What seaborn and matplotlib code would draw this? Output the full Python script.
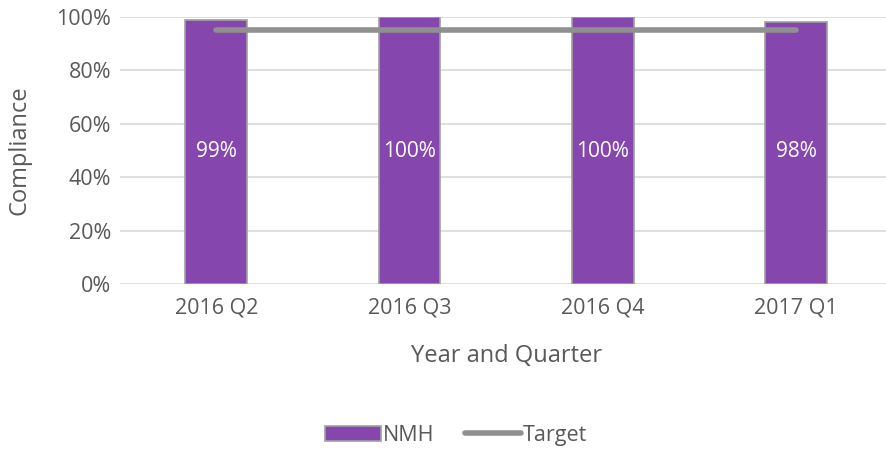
import pandas as pd
import matplotlib.pyplot as plt
import seaborn as sns
from matplotlib.ticker import PercentFormatter

quarters = ["2016 Q2", "2016 Q3", "2016 Q4", "2017 Q1"]
nmh = [0.99, 1.00, 1.00, 0.98]
target = [0.95, 0.95, 0.95, 0.95]

df = pd.DataFrame({"quarter": quarters, "NMH": nmh, "Target": target})

sns.set_style("white")
plt.rcParams["font.family"] = ["Open Sans", "DejaVu Sans"]
txt = "#595959"

fig = plt.figure(figsize=(8.86, 4.49), dpi=100)
ax = fig.add_axes([0.135, 0.3675, 0.8725, 0.5945])

sns.barplot(data=df, x="quarter", y="NMH", color="#8547AD", saturation=1,
            width=0.32, edgecolor="#A0A0A0", linewidth=1.2, ax=ax, label="NMH", zorder=2)
sns.lineplot(data=df, x="quarter", y="Target", color="#909090", linewidth=4,
             solid_capstyle="round", ax=ax, label="Target", zorder=3)

for i, v in enumerate(nmh):
    ax.text(i, 0.495, f"{v:.0%}", ha="center", va="center", color="white", fontsize=15, zorder=4)

ax.set_ylim(0, 1)
ax.set_xlim(-0.5, 3.5)
ax.yaxis.set_major_formatter(PercentFormatter(1.0, decimals=0))
ax.set_yticks([0, 0.2, 0.4, 0.6, 0.8, 1.0])
ax.grid(axis="y", color="#D9D9D9", linewidth=1.2, zorder=0)
ax.set_axisbelow(True)
for s in ax.spines.values():
    s.set_visible(False)
ax.tick_params(axis="both", colors=txt, labelsize=15.5, length=0)
ax.tick_params(axis="x", pad=10)
ax.tick_params(axis="y", pad=6)
ax.set_xlabel("Year and Quarter", color=txt, fontsize=17, labelpad=18)
ax.set_ylabel("Compliance", color=txt, fontsize=17, labelpad=18)

handles, labels = ax.get_legend_handles_labels()
order = [labels.index("NMH"), labels.index("Target")]
ax.legend([handles[i] for i in order], [labels[i] for i in order],
          loc="upper center", bbox_to_anchor=(0.435, -0.455), ncol=2, frameon=False,
          fontsize=15.5, labelcolor=txt, handlelength=2.6, handletextpad=0.1, columnspacing=1.4)

fig.savefig("out.png", dpi=100)
